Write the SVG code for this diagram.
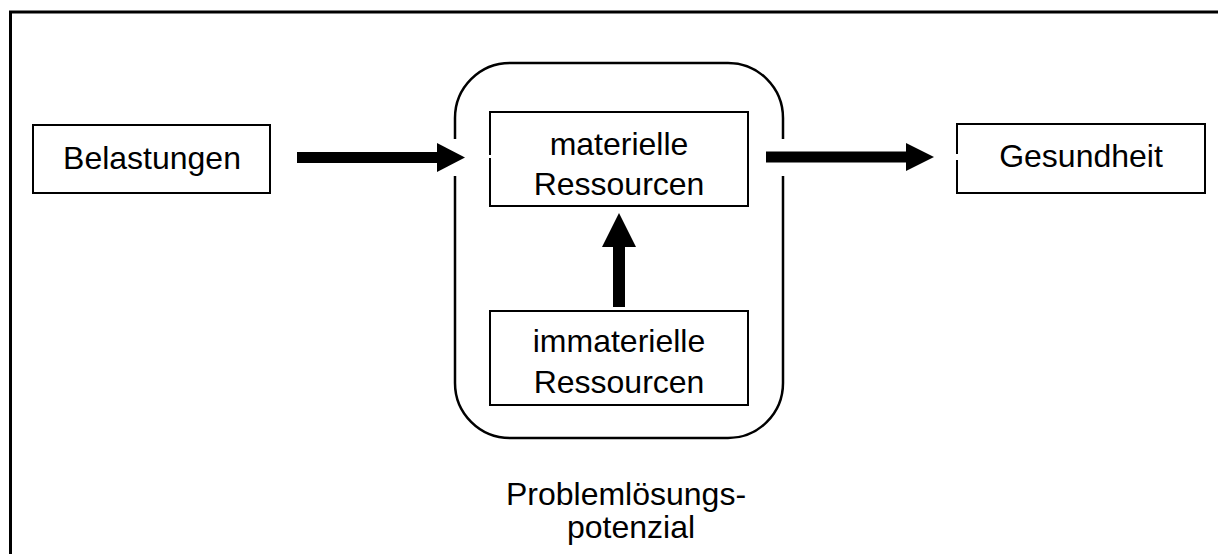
<svg xmlns="http://www.w3.org/2000/svg" width="1218" height="554" viewBox="0 0 1218 554">
<style>
.box{fill:#fff;stroke:#000;stroke-width:2}
.t{font-family:"Liberation Sans",Arial,sans-serif;font-size:32px;fill:#000;text-anchor:middle}
.shaft{stroke:#000;fill:none}
.head{fill:#000;stroke:none}
</style>
<rect width="1218" height="554" fill="#fff"/>
<g id="frame">
<path d="M10.5,554 V12 H1218" fill="none" stroke="#000" stroke-width="3"/>
</g>
<g id="potenzial">
<rect x="455" y="63" width="328" height="375" rx="55" ry="55" fill="none" stroke="#000" stroke-width="2.5"/>
<rect x="450" y="139" width="10" height="37" fill="#fff"/>
<rect x="778" y="139" width="10" height="37" fill="#fff"/>
<text class="t" x="626" y="505">Problemlösungs-</text>
<text class="t" x="631" y="538">potenzial</text>
</g>
<g id="belastungen">
<rect class="box" x="33" y="125" width="237" height="68"/>
<text class="t" x="152" y="169">Belastungen</text>
</g>
<g id="materielle">
<rect class="box" x="490" y="112" width="258" height="94"/>
<rect x="488" y="155" width="4" height="3" fill="#fff"/>
<text class="t" x="619" y="155">materielle</text>
<text class="t" x="619" y="195">Ressourcen</text>
</g>
<g id="immaterielle">
<rect class="box" x="490" y="311" width="258" height="94"/>
<text class="t" x="619" y="352">immaterielle</text>
<text class="t" x="619" y="393">Ressourcen</text>
</g>
<g id="gesundheit">
<rect class="box" x="957" y="124" width="248" height="69"/>
<rect x="955" y="154" width="4" height="6" fill="#fff"/>
<text class="t" x="1081" y="167">Gesundheit</text>
</g>
<g id="connectors">
<line class="shaft" x1="297" y1="157.5" x2="440" y2="157.5" stroke-width="11"/>
<polygon class="head" points="437,143 465,157.5 437,172"/>
<line class="shaft" x1="766" y1="157" x2="910" y2="157" stroke-width="11"/>
<polygon class="head" points="906,143 934,157 906,171"/>
<line class="shaft" x1="619" y1="307" x2="619" y2="244" stroke-width="12"/>
<polygon class="head" points="602,247 619,213 636,247"/>
</g>
</svg>
